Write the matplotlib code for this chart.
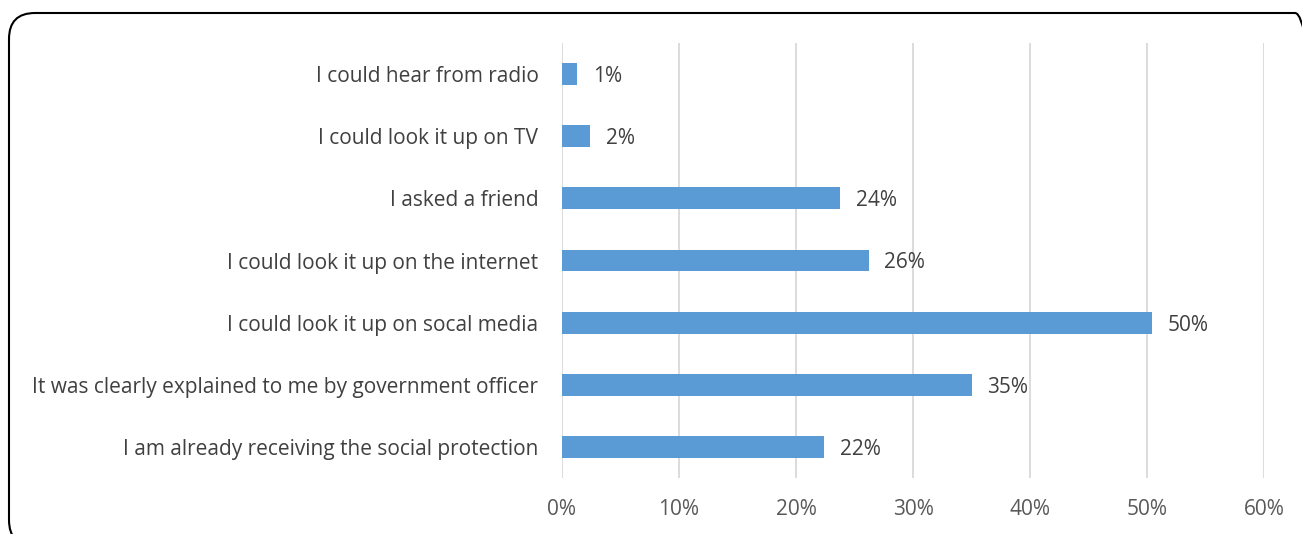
import matplotlib
matplotlib.use('Agg')
import matplotlib.pyplot as plt
from matplotlib.patches import FancyBboxPatch
from matplotlib.transforms import IdentityTransform
from matplotlib.ticker import PercentFormatter

plt.rcParams['font.family'] = ['Open Sans', 'DejaVu Sans']

# survey answers, bottom to top as drawn
categories = [
    'I am already receiving the social protection',
    'It was clearly explained to me by government officer',
    'I could look it up on socal media',
    'I could look it up on the internet',
    'I asked a friend',
    'I could look it up on TV',
    'I could hear from radio',
]
shares = [22.4, 35.0, 50.4, 26.2, 23.8, 2.4, 1.3]
labels = ['22%', '35%', '50%', '26%', '24%', '2%', '1%']
ticks = [0, 10, 20, 30, 40, 50, 60]

W, H = 1302, 534
fig = plt.figure(figsize=(W / 100, H / 100), dpi=100)
ax = fig.add_axes([562 / W, 1 - 478 / H, (1264 - 562) / W, (478 - 43) / H])

ypos = range(len(categories))
ax.barh(ypos, shares, height=0.35, color='#5B9BD5', zorder=2)
for y, v, lab in zip(ypos, shares, labels):
    ax.text(v + 1.35, y, lab, va='center_baseline', ha='left', fontsize=15, color='#404040')

ax.set_xlim(0, 60)
ax.set_ylim(-0.5, len(categories) - 0.5)
ax.set_xticks(ticks)
ax.xaxis.set_major_formatter(PercentFormatter(decimals=0))
ax.set_yticks(list(ypos))
ax.set_yticklabels(categories)
ax.tick_params(axis='y', length=0, pad=17, labelsize=15, labelcolor='#404040')
ax.tick_params(axis='x', length=0, pad=15, labelsize=15, labelcolor='#595959')
ax.grid(axis='x', color='#D9D9D9', linewidth=1.3, zorder=0)
for s in ax.spines.values():
    s.set_visible(False)

# rounded frame around the chart, in pixels
frame = FancyBboxPatch((9, -12), 1312, H - 13 + 12,
                       boxstyle='round,pad=0,rounding_size=26',
                       transform=IdentityTransform(), fill=False,
                       edgecolor='black', linewidth=1.5)
fig.patches.append(frame)

fig.savefig('out.png', dpi=100)
